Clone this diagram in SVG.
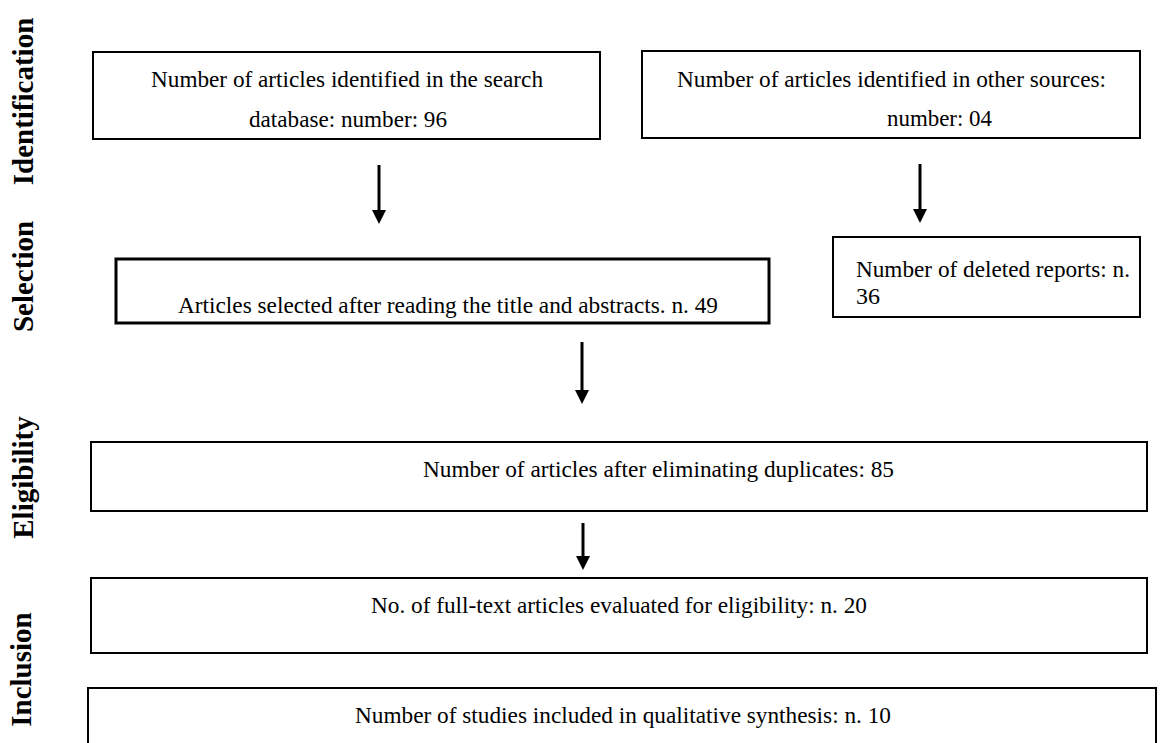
<svg xmlns="http://www.w3.org/2000/svg" width="1162" height="743" viewBox="0 0 1162 743">
  <style>
    .box { fill: #ffffff; stroke: #000000; stroke-width: 2; }
    .thick { stroke-width: 3; }
    .t { font-family: "Liberation Serif", "Times New Roman", serif; font-size: 24px; fill: #000000; }
    .side { font-family: "Liberation Serif", "Times New Roman", serif; font-size: 29px; font-weight: bold; fill: #000000; text-anchor: middle; }
    .conn { stroke: #000000; stroke-width: 3; fill: none; marker-end: url(#arrow); }
  </style>
  <defs>
    <marker id="arrow" markerUnits="userSpaceOnUse" markerWidth="14" markerHeight="14" refX="0" refY="7" orient="auto">
      <path d="M0,0 L14,7 L0,14 z" fill="#000000"/>
    </marker>
  </defs>
  <rect x="0" y="0" width="1162" height="743" fill="#ffffff"/>

  <g id="side-labels">
    <text class="side" transform="translate(33,101.5) rotate(-90)">Identification</text>
    <text class="side" transform="translate(33,276.5) rotate(-90)">Selection</text>
    <text class="side" transform="translate(33,477.5) rotate(-90)">Eligibility</text>
    <text class="side" transform="translate(31,669.5) rotate(-90)">Inclusion</text>
  </g>

  <g id="node-database">
    <rect class="box" x="93" y="52" width="507" height="87"/>
    <text class="t" x="151" y="87" textLength="392" lengthAdjust="spacingAndGlyphs">Number of articles identified in the search</text>
    <text class="t" x="249" y="127" textLength="198" lengthAdjust="spacingAndGlyphs">database: number: 96</text>
  </g>

  <g id="node-other">
    <rect class="box" x="642" y="51" width="498" height="87"/>
    <text class="t" x="677" y="87" textLength="429" lengthAdjust="spacingAndGlyphs">Number of articles identified in other sources:</text>
    <text class="t" x="887" y="126" textLength="105" lengthAdjust="spacingAndGlyphs">number: 04</text>
  </g>

  <g id="node-selected">
    <rect class="box thick" x="116" y="259" width="653" height="64"/>
    <text class="t" x="178" y="313" textLength="540" lengthAdjust="spacingAndGlyphs">Articles selected after reading the title and abstracts. n. 49</text>
  </g>

  <g id="node-deleted">
    <rect class="box" x="833" y="237" width="307" height="80"/>
    <text class="t" x="856" y="277" textLength="274" lengthAdjust="spacingAndGlyphs">Number of deleted reports: n.</text>
    <text class="t" x="856" y="304">36</text>
  </g>

  <g id="node-duplicates">
    <rect class="box" x="91" y="442" width="1056" height="69"/>
    <text class="t" x="423" y="477" textLength="471" lengthAdjust="spacingAndGlyphs">Number of articles after eliminating duplicates: 85</text>
  </g>

  <g id="node-fulltext">
    <rect class="box" x="91" y="578" width="1056" height="75"/>
    <text class="t" x="371" y="613" textLength="496" lengthAdjust="spacingAndGlyphs">No. of full-text articles evaluated for eligibility: n. 20</text>
  </g>

  <g id="node-included">
    <rect class="box" x="88" y="688" width="1068" height="70"/>
    <text class="t" x="355" y="723" textLength="536" lengthAdjust="spacingAndGlyphs">Number of studies included in qualitative synthesis: n. 10</text>
  </g>

  <g id="connectors">
    <line class="conn" x1="379" y1="165" x2="379" y2="210"/>
    <line class="conn" x1="920" y1="164" x2="920" y2="209"/>
    <line class="conn" x1="582" y1="342" x2="582" y2="390"/>
    <line class="conn" x1="583" y1="523" x2="583" y2="556"/>
  </g>
</svg>
